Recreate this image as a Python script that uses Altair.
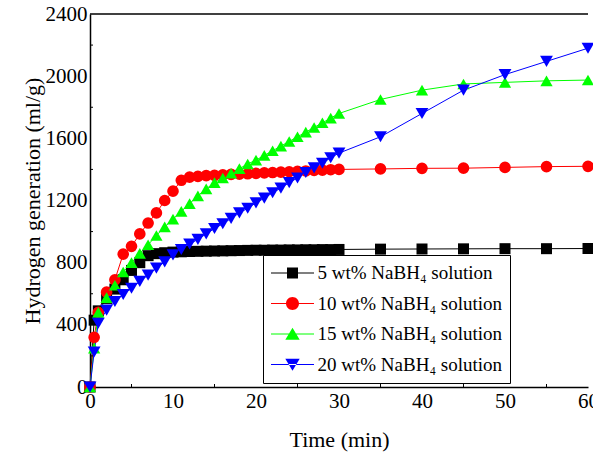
import altair as alt
import pandas as pd

# Sampling times (min)
time_min = [0, 0.5, 1, 2, 3, 4, 5, 6, 7, 8, 9, 10, 11, 12, 13, 14, 15, 16, 17, 18,
            19, 20, 21, 22, 23, 24, 25, 26, 27, 28, 29, 30, 35, 40, 45, 50, 55, 60]

# Cumulative hydrogen generation (ml/g) for each NaBH4 concentration
h_5wt = [0, 430, 490, 570, 630, 690, 750, 800, 845, 858, 864, 868, 870, 872, 873, 874,
         875, 876, 877, 878, 879, 880, 880, 881, 881, 882, 882, 883, 883, 884, 884, 885,
         887, 888, 889, 890, 890, 891]
h_10wt = [0, 320, 480, 610, 690, 855, 905, 985, 1055, 1120, 1200, 1260, 1330, 1350, 1355,
          1360, 1362, 1365, 1368, 1370, 1372, 1375, 1378, 1380, 1383, 1385, 1388, 1390,
          1393, 1395, 1398, 1400, 1403, 1407, 1408, 1413, 1418, 1420]
h_15wt = [0, 250, 480, 575, 655, 740, 800, 860, 915, 975, 1030, 1080, 1130, 1180, 1230,
          1275, 1315, 1345, 1375, 1405, 1435, 1460, 1490, 1520, 1550, 1580, 1610, 1640,
          1670, 1700, 1730, 1760, 1850, 1910, 1950, 1960, 1970, 1975]
h_20wt = [0, 225, 410, 495, 550, 595, 635, 680, 720, 765, 805, 850, 885, 920, 950, 985,
          1020, 1050, 1085, 1120, 1150, 1185, 1215, 1250, 1280, 1315, 1345, 1380, 1410,
          1440, 1475, 1505, 1610, 1760, 1910, 2010, 2095, 2180]

series_names = ["5 wt%", "10 wt%", "15 wt%", "20 wt%"]
series_values = [h_5wt, h_10wt, h_15wt, h_20wt]
series_colors = ["#000000", "#ff0000", "#00ff00", "#0000ff"]
marker_shapes = ["square", "circle", "triangle-up", "triangle-down"]
marker_sizes = [121, 165, 220, 220]

# Legend symbols: a thin bar (the line) through the marker, both filled
legend_paths = [
    "M-2.15,-0.05H2.15V0.05H-2.15Z M-0.55,-0.55H0.55V0.55H-0.55Z",
    "M-2.15,-0.05H2.15V0.05H-2.15Z M0.65,0A0.65,0.65,0,1,1,-0.65,0A0.65,0.65,0,1,1,0.65,0Z",
    "M-2.15,-0.05H2.15V0.05H-2.15Z M0,-0.62L0.72,0.58L-0.72,0.58Z",
    "M-2.15,-0.05H2.15V0.05H-2.15Z M0,0.62L0.72,-0.58L-0.72,-0.58Z",
]

x_minor_ticks = [5, 15, 25, 35, 45, 55]
y_minor_ticks = [200, 600, 1000, 1400, 1800, 2200]
x_labels = [0, 10, 20, 30, 40, 50, 60]
y_labels = [0, 400, 800, 1200, 1600, 2000, 2400]

rows = []
for name, vals in zip(series_names, series_values):
    for t, h in zip(time_min, vals):
        rows.append({"series": name, "time": t, "h": h})
df = pd.DataFrame(rows)

FONT = "Liberation Serif"
W, H = 498, 373

x_scale = alt.Scale(domain=[0, 60], nice=False)
y_scale = alt.Scale(domain=[0, 2400], nice=False)

x_enc = alt.X("time:Q", scale=x_scale,
              axis=alt.Axis(values=x_labels, format="d", title="Time (min)",
                            labelFlush=False, titlePadding=18, titleFont=FONT,
                            titleFontSize=22, titleFontWeight="normal"))
y_enc = alt.Y("h:Q", scale=y_scale,
              axis=alt.Axis(values=y_labels, format="d",
                            title="Hydrogen generation (ml/g)", titlePadding=1,
                            titleFont=FONT, titleFontSize=22, titleFontWeight="normal"))


def color_enc(legend=None):
    return alt.Color("series:N", scale=alt.Scale(domain=series_names, range=series_colors),
                     legend=legend)


lines = alt.Chart(df).mark_line(strokeWidth=1, clip=False).encode(
    x=x_enc, y=y_enc, color=color_enc(),
)

points = alt.Chart(df).mark_point(filled=True, opacity=1).encode(
    x=x_enc, y=y_enc, color=color_enc(),
    shape=alt.Shape("series:N", scale=alt.Scale(domain=series_names, range=marker_shapes),
                    legend=None),
    size=alt.Size("series:N", scale=alt.Scale(domain=series_names, range=marker_sizes),
                  legend=None),
)

legend_def = alt.Legend(
    title=None, orient="none", legendX=173, legendY=241,
    strokeColor="black", fillColor="white", padding=8,
    symbolSize=400, symbolOffset=11.5, symbolStrokeWidth=0, labelOffset=15,
    rowPadding=10.5, labelFont=FONT, labelFontSize=19, labelColor="black", labelLimit=0,
    labelExpr="(datum.label == '20 wt%' ? '\u00a0' : '') + datum.label + ' NaBH\u2084 solution'",
)

# Marks of this layer are filtered out; it only carries the legend
legend_layer = alt.Chart(df).transform_filter("false").mark_point(
    filled=True, size=400, opacity=1
).encode(
    x=x_enc, y=y_enc,
    color=color_enc(legend_def),
    shape=alt.Shape("series:N", scale=alt.Scale(domain=series_names, range=legend_paths),
                    legend=legend_def),
)

x_ticks = alt.Chart(pd.DataFrame({"time": x_minor_ticks})).mark_rule(
    color="black", strokeWidth=1
).encode(
    x=x_enc,
    y=alt.value(H), y2=alt.value(H - 3),
)

y_ticks = alt.Chart(pd.DataFrame({"h": y_minor_ticks})).mark_rule(
    color="black", strokeWidth=1
).encode(
    y=y_enc,
    x=alt.value(0), x2=alt.value(3),
)

top_line = alt.Chart(pd.DataFrame({"h": [2400]})).mark_rule(
    color="black", strokeWidth=1.5
).encode(
    y=y_enc,
)

chart = alt.layer(
    lines, points, x_ticks, y_ticks, top_line, legend_layer
).resolve_scale(
    color="independent", shape="independent"
).properties(
    width=W, height=H,
    padding={"left": 90, "top": 14, "right": 5, "bottom": 69},
    autosize=alt.AutoSizeParams(type="none"),
    background="white",
).configure_view(
    stroke=None
).configure_axis(
    grid=False, ticks=False, labelPadding=3, labelFontSize=21, labelFont=FONT,
    labelColor="black", domainColor="black", domainWidth=1.5, titleFont=FONT,
    titleFontSize=22, titleFontWeight="normal", titleColor="black", labelOverlap=False,
)

chart.save("out.html", embed_options={"renderer": "svg", "actions": False})
